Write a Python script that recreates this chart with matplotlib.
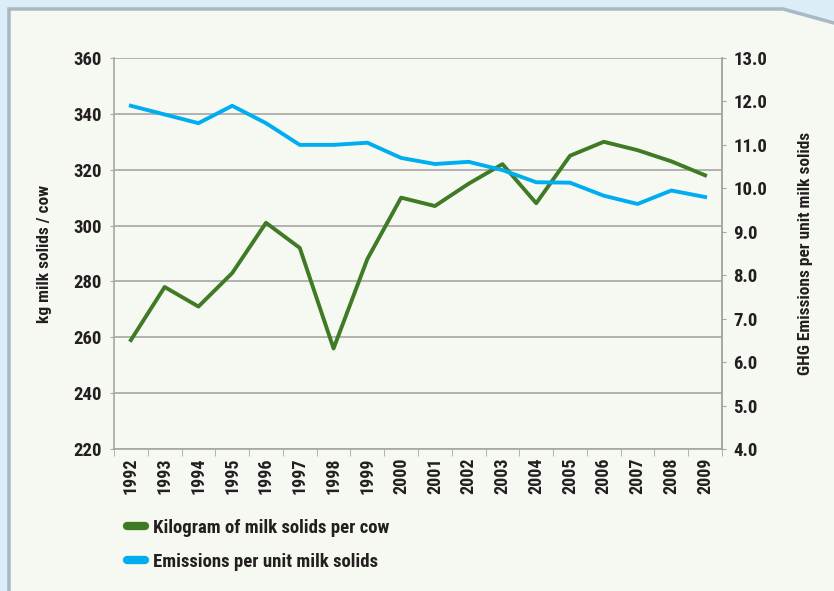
"""Milk solids per cow vs GHG emissions per unit milk solids, 1992-2009."""

import matplotlib

matplotlib.use("Agg")
import matplotlib.pyplot as plt
from matplotlib.font_manager import fontManager
from matplotlib.patches import Polygon

years = [str(y) for y in range(1992, 2010)]
kg_per_cow = [259, 278, 271, 283, 301, 292, 256, 288, 310, 307,
              315, 322, 308, 325, 330, 327, 323, 318]
emissions = [11.9, 11.7, 11.5, 11.9, 11.5, 11.0, 11.0, 11.05, 10.7, 10.56,
             10.61, 10.42, 10.14, 10.13, 9.83, 9.64, 9.95, 9.8]

left_ticks = list(range(220, 361, 20))
right_ticks = [4.0, 5.0, 6.0, 7.0, 8.0, 9.0, 10.0, 11.0, 12.0, 13.0]

GREEN = "#3f7a25"
BLUE = "#00aeef"
TEXT = "#231f20"
GRID = "#a6a6a6"

names = {f.name for f in fontManager.ttflist}
family = "DejaVu Sans"
for cand in ["Liberation Sans Narrow", "Roboto Condensed", "Open Sans Condensed", "Lato"]:
    if cand in names:
        family = cand
        break
narrow = family != "Lato"
plt.rcParams["font.family"] = family
plt.rcParams["font.weight"] = "bold"
fs = 13.5 if narrow else 12

fig = plt.figure(figsize=(8.34, 5.91), dpi=100, facecolor="#ddedf7")

# panel with folded top-right corner (pixel coords, y down)
W, H = 834, 591
corner = [(9, H + 10), (9, 9), (783, 9), (845, 26), (845, H + 10)]
panel = Polygon([(px / W, 1 - py / H) for px, py in corner], closed=True,
                transform=fig.transFigure, facecolor="#f6f9f2",
                edgecolor="#a7b9c6", linewidth=2.5, zorder=-5)
fig.patches.append(panel)

ax = fig.add_axes([114 / W, 1 - 449 / H, (722 - 114) / W, (449 - 58) / H])
ax.set_facecolor("none")
x = list(range(len(years)))
ax.plot(x, kg_per_cow, color=GREEN, linewidth=2.8, label="Kilogram of milk solids per cow",
        zorder=3)
ax.set_xlim(-0.5, len(years) - 0.5)
ax.set_ylim(220, 360)
ax.set_yticks(left_ticks)
ax.yaxis.grid(True, color=GRID, linewidth=1.2)
ax.set_axisbelow(True)
ax.set_xticks(x)
ax.set_xticklabels(years, rotation=90, fontsize=13, color=TEXT, fontweight="bold")
ax.set_xticks([i - 0.5 for i in range(len(years) + 1)], minor=True)
ax.tick_params(axis="x", which="major", length=0, pad=6)
ax.tick_params(axis="x", which="minor", length=5, color=GRID)
ax.tick_params(axis="y", length=3, color=GRID, labelsize=fs, labelcolor=TEXT, pad=6)
ax.spines["top"].set_visible(False)
for side in ["left", "right", "bottom"]:
    ax.spines[side].set_color(GRID)
    ax.spines[side].set_linewidth(1.2)
ax.set_ylabel("kg milk solids / cow", fontsize=12.5, color=TEXT, fontweight="bold",
              labelpad=15)

ax2 = ax.twinx()
ax2.plot(x, emissions, color=BLUE, linewidth=2.8, label="Emissions per unit milk solids",
         zorder=3)
ax2.set_ylim(4.0, 13.0)
ax2.set_yticks(right_ticks)
ax2.set_yticklabels([f"{v:.1f}" for v in right_ticks])
ax2.tick_params(axis="y", length=3, color=GRID, labelsize=fs, labelcolor=TEXT, pad=5)
for side in ["top", "left", "bottom"]:
    ax2.spines[side].set_visible(False)
ax2.spines["right"].set_color(GRID)
ax2.spines["right"].set_linewidth(1.2)
ax2.set_ylabel("GHG Emissions per unit milk solids", fontsize=12.5, color=TEXT,
               fontweight="bold", labelpad=22)

handles = ax.get_lines()[:1] + ax2.get_lines()[:1]
leg = fig.legend(handles, [h.get_label() for h in handles], loc="upper left",
                 bbox_to_anchor=(110 / W, 1 - 502 / H), frameon=False,
                 handlelength=0.95, handletextpad=0.45, labelspacing=0.85,
                 prop={"size": fs, "weight": "bold"})
for line in leg.get_lines():
    line.set_linewidth(6)
    line.set_solid_capstyle("round")
for t in leg.get_texts():
    t.set_color(TEXT)

fig.savefig("out.png", dpi=100, facecolor=fig.get_facecolor())
